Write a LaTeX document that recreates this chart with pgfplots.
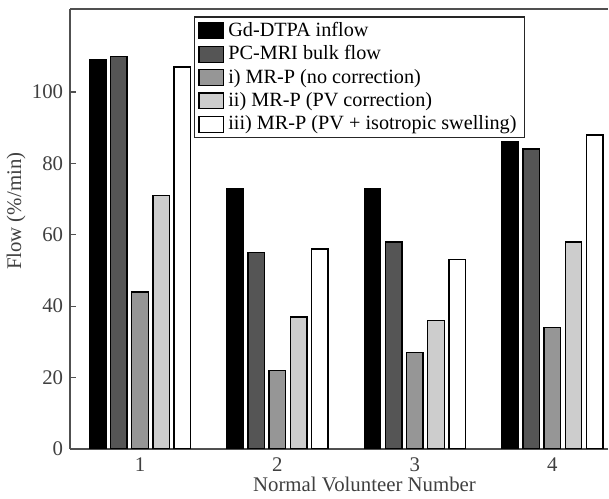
\documentclass[border=0pt]{standalone}
\usepackage{fontspec}
\setmainfont{Liberation Serif}
\usepackage{pgfplots}
\pgfplotsset{compat=1.18}
\definecolor{cA}{RGB}{0,0,0}
\definecolor{cB}{RGB}{85,85,85}
\definecolor{cC}{RGB}{150,150,150}
\definecolor{cD}{RGB}{205,205,205}
\definecolor{cE}{RGB}{255,255,255}
\definecolor{axc}{RGB}{80,80,80}
\begin{document}
\begin{tikzpicture}
\begin{axis}[
  scale only axis,
  width=271.5pt, height=222pt,
  xmin=0.492, xmax=4.407,
  ymin=0, ymax=123.3,
  ybar, bar width=0.12,
  axis x line*=box, axis y line*=left,
  axis line style={draw=axc, line width=0.8pt},
  xtick={1,2,3,4},
  xtick style={draw=none},
  ytick={0,20,40,60,80,100},
  ytick pos=left,
  tick align=inside,
  major tick length=3pt,
  ytick style={draw=axc, line width=0.6pt},
  /pgf/number format/assume math mode=true,
  tick label style={font=\fontsize{10.5}{12}\selectfont, text=black!75},
  xticklabel style={anchor=base, yshift=-11.5pt},
  xlabel={Normal Volunteer Number},
  ylabel={Flow (\%/min)},
  label style={font=\fontsize{10.5}{12}\selectfont, text=black!75},
  xlabel style={at={(axis description cs:0.547,0)}, anchor=base, yshift=-21.3pt},
  ylabel style={at={(axis description cs:-0.07,0.54)}, anchor=south},
  legend style={at={(0.2297,0.983)}, anchor=north west, draw=black!85, line width=0.7pt,
    font=\fontsize{10.2}{11}\selectfont, inner xsep=2pt, inner ysep=0.5pt, row sep=-0.8pt},
  legend cell align=left,
  legend image code/.code={\draw[#1, line width=0.6pt] (0pt,-4pt) rectangle (12.5pt,4pt);},
  every axis plot/.append style={draw=black, line width=0.7pt},
]
\addplot[fill=cA, bar shift=-0.308] coordinates {(1,109) (2,73) (3,73) (4,86)};
\addplot[fill=cB, bar shift=-0.154] coordinates {(1,110) (2,55) (3,58) (4,84)};
\addplot[fill=cC, bar shift=0] coordinates {(1,44) (2,22) (3,27) (4,34)};
\addplot[fill=cD, bar shift=0.154] coordinates {(1,71) (2,37) (3,36) (4,58)};
\addplot[fill=cE, bar shift=0.308] coordinates {(1,107) (2,56) (3,53) (4,88)};
\legend{Gd-DTPA inflow, PC-MRI bulk flow, i) MR-P (no correction), ii) MR-P (PV correction), iii) MR-P (PV + isotropic swelling)}
\coordinate (ll) at (rel axis cs:0,0);
\coordinate (ur) at (rel axis cs:1,1);
\end{axis}
\path ([shift={(-33pt,-22pt)}]ll) rectangle ([shift={(0pt,4.5pt)}]ur);
\end{tikzpicture}
\end{document}
